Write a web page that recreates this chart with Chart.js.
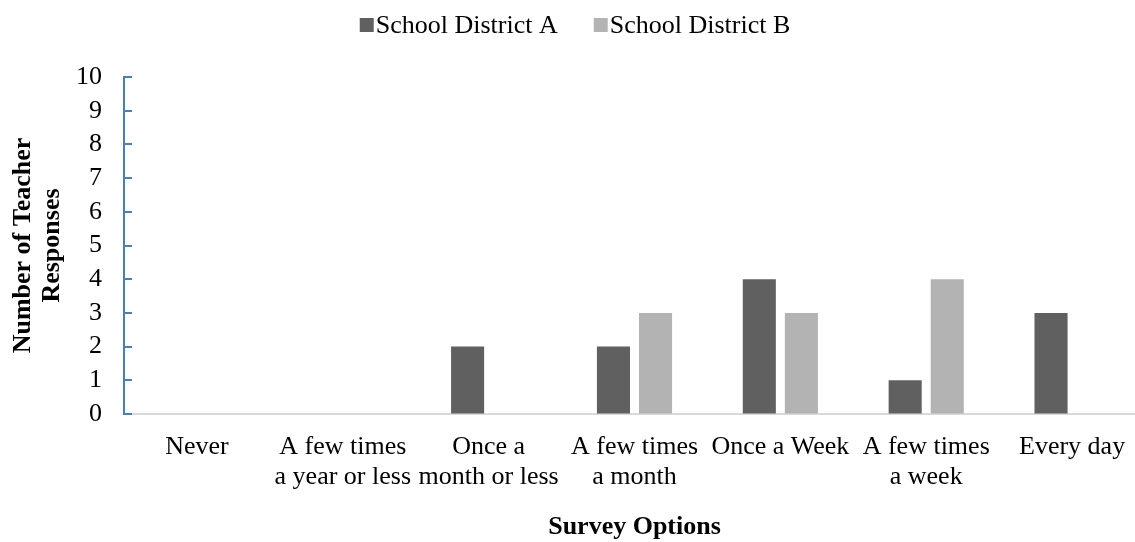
<!DOCTYPE html>
<html>
<head>
<meta charset="utf-8">
<script src="https://cdn.jsdelivr.net/npm/chart.js@4/dist/chart.umd.min.js"></script>
<style>
  html, body { margin: 0; padding: 0; background: #ffffff; overflow: hidden; }
  #wrap { width: 1135px; height: 542px; overflow: hidden; position: relative; }
  canvas { display: block; }
</style>
</head>
<body>
<div id="wrap"><canvas id="chart" width="1145" height="542"></canvas></div>
<script>
// Survey answer categories (multi-line labels)
const categories = [
  ["Never"],
  ["A few times", "a year or less"],
  ["Once a", "month or less"],
  ["A few times", "a month"],
  ["Once a Week"],
  ["A few times", "a week"],
  ["Every day"]
];

// Teacher responses per district
const districtA = [0, 0, 2, 2, 4, 1, 3];
const districtB = [0, 0, 0, 3, 3, 4, 0];

const seriesNames = ["School District A", "School District B"];
const yTicks = [0, 1, 2, 3, 4, 5, 6, 7, 8, 9, 10];

const FONT = "'Liberation Serif', 'Times New Roman', serif";
const AXIS_BLUE = "#4a7ebb";

// Legend drawn at the top, centred, from the dataset labels and colours
const topLegend = {
  id: "topLegend",
  afterDraw(chart) {
    const ctx = chart.ctx;
    const sets = chart.data.datasets;
    ctx.save();
    ctx.font = "26px " + FONT;
    ctx.textBaseline = "middle";
    ctx.textAlign = "left";
    const box = 14, gapText = 2, gapItem = 36;
    const widths = sets.map(d => ctx.measureText(d.label).width);
    let total = 0;
    widths.forEach((w, i) => { total += box + gapText + w + (i ? gapItem : 0); });
    let x = 575 - total / 2;
    const cy = 25;
    sets.forEach((d, i) => {
      ctx.fillStyle = d.backgroundColor;
      ctx.fillRect(x, cy - 7, box, box);
      ctx.fillStyle = "#000000";
      ctx.fillText(d.label, x + box + gapText, cy + 1);
      x += box + gapText + widths[i] + gapItem;
    });
    ctx.restore();
  }
};

// Small tick marks on the inside of the value axis
const innerTicks = {
  id: "innerTicks",
  afterDraw(chart) {
    const y = chart.scales.y;
    const ctx = chart.ctx;
    const left = chart.chartArea.left;
    ctx.save();
    ctx.strokeStyle = AXIS_BLUE;
    ctx.lineWidth = 2;
    y.ticks.forEach(t => {
      const py = Math.round(y.getPixelForValue(t.value));
      ctx.beginPath();
      ctx.moveTo(left, py);
      ctx.lineTo(left + 8, py);
      ctx.stroke();
    });
    ctx.restore();
  }
};

const whiteBg = {
  id: "whiteBg",
  beforeDraw(chart) {
    const ctx = chart.ctx;
    ctx.save();
    ctx.fillStyle = "#ffffff";
    ctx.fillRect(0, 0, chart.width, chart.height);
    ctx.restore();
  }
};

new Chart(document.getElementById("chart"), {
  type: "bar",
  data: {
    labels: categories,
    datasets: [
      {
        label: seriesNames[0],
        data: districtA,
        backgroundColor: "#606060",
        borderWidth: 0,
        categoryPercentage: 0.577,
        barPercentage: 0.786
      },
      {
        label: seriesNames[1],
        data: districtB,
        backgroundColor: "#b3b3b3",
        borderWidth: 0,
        categoryPercentage: 0.577,
        barPercentage: 0.786
      }
    ]
  },
  options: {
    responsive: false,
    animation: false,
    devicePixelRatio: 1,
    layout: { padding: { top: 77, left: 0, right: 0, bottom: 0 } },
    plugins: {
      legend: { display: false },
      tooltip: { enabled: false }
    },
    scales: {
      x: {
        grid: { display: true, drawOnChartArea: false, drawTicks: false },
        border: { display: true, color: "#d9d9d9", width: 2 },
        ticks: {
          color: "#000000",
          padding: 18,
          maxRotation: 0,
          autoSkip: false,
          font: { family: FONT, size: 26, lineHeight: 1.15 }
        },
        title: {
          display: true,
          text: "Survey Options",
          color: "#000000",
          padding: { top: 0, bottom: 0 },
          font: { family: FONT, size: 26, weight: "bold", lineHeight: 1.15 }
        },
        afterFit(scale) { scale.height = 128; }
      },
      y: {
        min: 0,
        max: 10,
        grid: { display: true, drawOnChartArea: false, drawTicks: false },
        border: { display: true, color: AXIS_BLUE, width: 2 },
        afterBuildTicks(scale) { scale.ticks = yTicks.map(v => ({ value: v })); },
        ticks: {
          color: "#000000",
          padding: 22,
          font: { family: FONT, size: 26, lineHeight: 1.15 }
        },
        title: {
          display: true,
          text: ["Number of Teacher", "Responses"],
          color: "#000000",
          padding: { top: 9, bottom: 0 },
          font: { family: FONT, size: 26, weight: "bold", lineHeight: 1.1 }
        },
        afterFit(scale) { scale.width = 124; }
      }
    }
  },
  plugins: [whiteBg, innerTicks, topLegend]
});
</script>
</body>
</html>
